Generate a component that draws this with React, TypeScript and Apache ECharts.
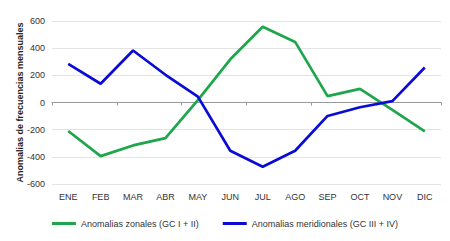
import React, { useEffect, useRef } from "react";
import * as echarts from "echarts";

const categories = ["ENE", "FEB", "MAR", "ABR", "MAY", "JUN", "JUL", "AGO", "SEP", "OCT", "NOV", "DIC"];
const zonales = [-210, -395, -316, -262, 18, 318, 558, 446, 47, 100, -55, -212];
const meridionales = [285, 138, 383, 204, 43, -355, -473, -355, -99, -35, 10, 258];
const yTicks = { min: -600, max: 600, interval: 200 };

export default function App() {
  const ref = useRef<HTMLDivElement>(null);
  useEffect(() => {
    if (!ref.current) return;
    const chart = echarts.init(ref.current, undefined, { renderer: "svg" });
    const font = "Liberation Sans, Arial, sans-serif";
    chart.setOption({
      animation: false,
      grid: { left: 52, right: 9, top: 21, bottom: 57 },
      legend: {
        bottom: 8,
        left: "center",
        itemWidth: 24,
        itemHeight: 3,
        itemGap: 24,
        icon: "rect",
        textStyle: { fontFamily: font, fontSize: 9, color: "#333" },
        data: ["Anomalias zonales (GC I + II)", "Anomalias meridionales (GC III + IV)"],
      },
      xAxis: [
        {
          type: "category",
          data: categories,
          boundaryGap: true,
          axisLine: { onZero: true, lineStyle: { color: "#999", width: 1 } },
          axisTick: { show: true, inside: false, length: 3, lineStyle: { color: "#999" } },
          axisLabel: { show: false },
          splitLine: { show: false },
        },
        {
          type: "category",
          data: categories,
          position: "bottom",
          boundaryGap: true,
          axisLine: { show: false },
          axisTick: { show: false },
          axisLabel: { fontFamily: font, fontSize: 9, color: "#333", margin: 8 },
        },
      ],
      yAxis: {
        type: "value",
        min: yTicks.min,
        max: yTicks.max,
        interval: yTicks.interval,
        name: "Anomalias de frecuencias mensuales",
        nameLocation: "middle",
        nameGap: 28,
        nameMoveOverlap: false,
        nameTextStyle: { fontFamily: font, fontSize: 9, fontWeight: "bold", color: "#222" },
        axisLine: { show: false },
        axisTick: { show: false },
        axisLabel: { fontFamily: font, fontSize: 9, color: "#333", margin: 7 },
        splitLine: { lineStyle: { color: "#e4e4e4", width: 1 } },
      },
      series: [
        {
          name: "Anomalias zonales (GC I + II)",
          type: "line",
          data: zonales,
          symbol: "none",
          color: "#1ea64c",
          lineStyle: { width: 2.7, color: "#1ea64c" },
        },
        {
          name: "Anomalias meridionales (GC III + IV)",
          type: "line",
          data: meridionales,
          symbol: "none",
          color: "#0b0bd6",
          lineStyle: { width: 2.7, color: "#0b0bd6" },
        },
      ],
    });
    return () => chart.dispose();
  }, []);
  return <div ref={ref} style={{ width: 450, height: 241, position: "absolute", left: 0, top: 0 }} />;
}
